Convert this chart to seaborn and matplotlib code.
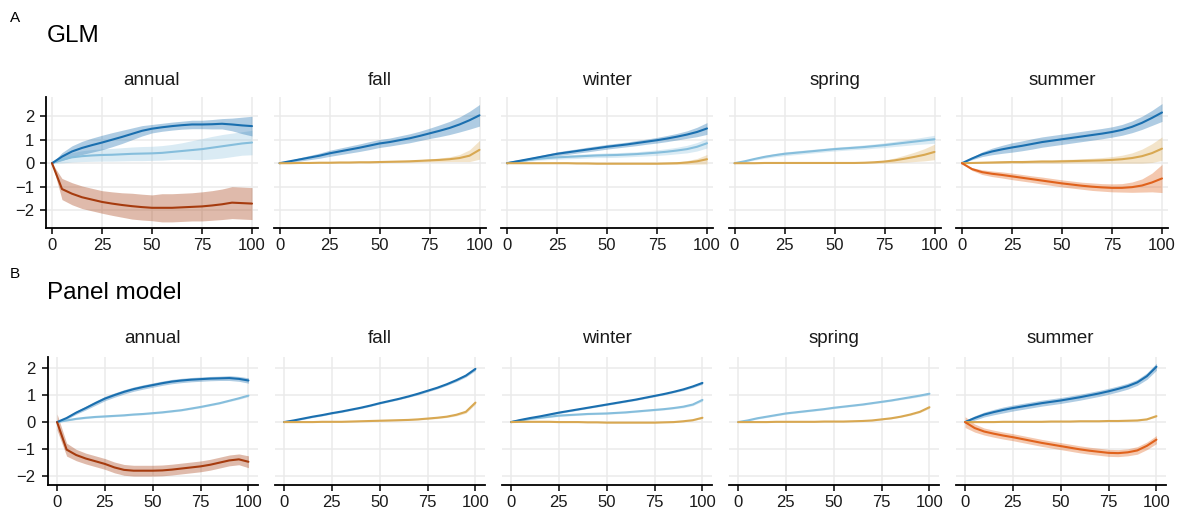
import numpy as np
import pandas as pd
import matplotlib
matplotlib.use("Agg")
import matplotlib.pyplot as plt
import seaborn as sns

sns.set_theme(style="white")
plt.rcParams["font.family"] = ["Liberation Sans", "DejaVu Sans"]

# ---------------- data ----------------
x_vals = list(range(0, 101, 5))
seasons = ["annual", "fall", "winter", "spring", "summer"]
model_titles = ["GLM", "Panel model"]
panel_letters = ["A", "B"]
x_ticks = [0, 25, 50, 75, 100]
y_ticks = [-2, -1, 0, 1, 2]

# GLM
glm_annual_dark = [0, 0.28, 0.5, 0.65, 0.77, 0.88, 1.0, 1.12, 1.25, 1.38, 1.47, 1.53, 1.58, 1.62, 1.65, 1.65, 1.66, 1.68, 1.65, 1.61, 1.58]
glm_annual_dark_ci = [0, 0.17, 0.24, 0.28, 0.3, 0.31, 0.3, 0.28, 0.25, 0.22, 0.18, 0.17, 0.17, 0.17, 0.18, 0.18, 0.2, 0.22, 0.27, 0.35, 0.42]
glm_annual_light = [0, 0.15, 0.25, 0.3, 0.33, 0.35, 0.36, 0.38, 0.4, 0.41, 0.42, 0.44, 0.48, 0.52, 0.56, 0.6, 0.66, 0.72, 0.78, 0.84, 0.88]
glm_annual_light_ci = [0, 0.14, 0.2, 0.23, 0.25, 0.26, 0.27, 0.28, 0.29, 0.3, 0.3, 0.31, 0.32, 0.35, 0.4, 0.45, 0.48, 0.5, 0.5, 0.5, 0.52]
glm_annual_brown = [0, -1.1, -1.3, -1.45, -1.55, -1.65, -1.72, -1.78, -1.83, -1.87, -1.9, -1.9, -1.9, -1.88, -1.86, -1.84, -1.8, -1.75, -1.68, -1.7, -1.72]
glm_annual_brown_ci = [0, 0.45, 0.47, 0.48, 0.48, 0.48, 0.5, 0.52, 0.55, 0.55, 0.55, 0.6, 0.6, 0.6, 0.6, 0.62, 0.63, 0.65, 0.68, 0.68, 0.68]

glm_fall_dark = [0, 0.08, 0.16, 0.24, 0.32, 0.42, 0.5, 0.58, 0.66, 0.75, 0.84, 0.9, 0.98, 1.06, 1.16, 1.27, 1.38, 1.5, 1.65, 1.83, 2.04]
glm_fall_dark_ci = [0, 0.04, 0.07, 0.09, 0.11, 0.13, 0.14, 0.15, 0.16, 0.17, 0.17, 0.17, 0.18, 0.19, 0.2, 0.22, 0.25, 0.28, 0.32, 0.38, 0.46]
glm_fall_tan = [0, 0.0, 0.01, 0.01, 0.02, 0.02, 0.03, 0.03, 0.04, 0.04, 0.05, 0.06, 0.07, 0.08, 0.1, 0.12, 0.14, 0.17, 0.22, 0.32, 0.57]
glm_fall_tan_ci = [0, 0.01, 0.01, 0.01, 0.01, 0.02, 0.02, 0.02, 0.02, 0.03, 0.03, 0.03, 0.04, 0.04, 0.05, 0.06, 0.08, 0.1, 0.15, 0.25, 0.4]

glm_winter_dark = [0, 0.08, 0.16, 0.24, 0.32, 0.4, 0.46, 0.52, 0.58, 0.64, 0.7, 0.75, 0.8, 0.86, 0.92, 0.98, 1.05, 1.13, 1.22, 1.33, 1.48]
glm_winter_dark_ci = [0, 0.03, 0.05, 0.06, 0.07, 0.08, 0.09, 0.09, 0.1, 0.1, 0.1, 0.1, 0.1, 0.11, 0.11, 0.12, 0.13, 0.14, 0.16, 0.2, 0.25]
glm_winter_light = [0, 0.07, 0.13, 0.18, 0.22, 0.25, 0.27, 0.29, 0.31, 0.33, 0.34, 0.35, 0.37, 0.39, 0.42, 0.45, 0.49, 0.54, 0.6, 0.7, 0.85]
glm_winter_light_ci = [0, 0.03, 0.05, 0.06, 0.07, 0.08, 0.08, 0.09, 0.09, 0.09, 0.1, 0.1, 0.1, 0.1, 0.11, 0.12, 0.13, 0.14, 0.16, 0.18, 0.2]
glm_winter_tan = [0, 0.0, 0.0, 0.0, 0.0, 0.0, 0.0, -0.01, -0.01, -0.02, -0.02, -0.02, -0.02, -0.02, -0.02, -0.02, -0.01, 0.0, 0.03, 0.08, 0.17]
glm_winter_tan_ci = [0, 0.01, 0.01, 0.01, 0.01, 0.01, 0.01, 0.01, 0.02, 0.02, 0.02, 0.02, 0.02, 0.02, 0.03, 0.03, 0.04, 0.05, 0.08, 0.12, 0.2]

glm_spring_light = [0, 0.08, 0.18, 0.27, 0.34, 0.4, 0.44, 0.48, 0.52, 0.56, 0.6, 0.63, 0.66, 0.69, 0.73, 0.77, 0.82, 0.87, 0.92, 0.97, 1.02]
glm_spring_light_ci = [0, 0.03, 0.05, 0.06, 0.07, 0.08, 0.08, 0.08, 0.08, 0.08, 0.08, 0.08, 0.08, 0.09, 0.09, 0.1, 0.11, 0.12, 0.13, 0.15, 0.17]
glm_spring_tan = [0, 0.0, 0.0, 0.01, 0.01, 0.01, 0.01, 0.01, 0.01, 0.01, 0.01, 0.01, 0.01, 0.02, 0.04, 0.07, 0.12, 0.19, 0.27, 0.36, 0.48]
glm_spring_tan_ci = [0, 0.01, 0.01, 0.01, 0.01, 0.01, 0.01, 0.01, 0.01, 0.01, 0.01, 0.02, 0.02, 0.03, 0.04, 0.06, 0.1, 0.15, 0.2, 0.26, 0.33]

glm_summer_dark = [0, 0.2, 0.38, 0.5, 0.59, 0.67, 0.74, 0.82, 0.9, 0.96, 1.02, 1.08, 1.14, 1.2, 1.26, 1.33, 1.42, 1.55, 1.72, 1.93, 2.16]
glm_summer_dark_ci = [0, 0.05, 0.1, 0.14, 0.17, 0.2, 0.21, 0.22, 0.22, 0.22, 0.22, 0.22, 0.22, 0.22, 0.22, 0.22, 0.23, 0.25, 0.28, 0.32, 0.38]
glm_summer_tan = [0, 0.01, 0.02, 0.03, 0.04, 0.05, 0.05, 0.06, 0.07, 0.07, 0.08, 0.09, 0.1, 0.11, 0.12, 0.14, 0.17, 0.22, 0.3, 0.43, 0.62]
glm_summer_tan_ci = [0, 0.02, 0.03, 0.04, 0.05, 0.05, 0.06, 0.06, 0.07, 0.07, 0.08, 0.08, 0.09, 0.1, 0.12, 0.14, 0.17, 0.22, 0.3, 0.4, 0.5]
glm_summer_orange = [0, -0.25, -0.38, -0.45, -0.5, -0.56, -0.62, -0.68, -0.74, -0.8, -0.86, -0.91, -0.96, -1.0, -1.03, -1.05, -1.05, -1.02, -0.95, -0.82, -0.65]
glm_summer_orange_ci = [0, 0.06, 0.1, 0.12, 0.13, 0.14, 0.14, 0.14, 0.15, 0.15, 0.15, 0.15, 0.15, 0.16, 0.16, 0.17, 0.18, 0.22, 0.28, 0.4, 0.6]

# Panel model
pm_annual_dark = [0, 0.15, 0.35, 0.52, 0.7, 0.87, 1.0, 1.12, 1.22, 1.3, 1.37, 1.44, 1.5, 1.54, 1.57, 1.59, 1.61, 1.62, 1.63, 1.6, 1.54]
pm_annual_dark_ci = [0, 0.05, 0.06, 0.07, 0.08, 0.08, 0.08, 0.08, 0.08, 0.08, 0.08, 0.08, 0.08, 0.08, 0.08, 0.08, 0.08, 0.08, 0.09, 0.09, 0.1]
pm_annual_light = [0, 0.06, 0.12, 0.16, 0.19, 0.21, 0.23, 0.25, 0.28, 0.3, 0.33, 0.36, 0.4, 0.44, 0.5, 0.56, 0.63, 0.7, 0.79, 0.88, 0.98]
pm_annual_light_ci = [0, 0.02, 0.03, 0.03, 0.03, 0.03, 0.03, 0.03, 0.03, 0.03, 0.03, 0.03, 0.03, 0.03, 0.03, 0.03, 0.03, 0.03, 0.03, 0.04, 0.04]
pm_annual_brown = [0, -1.02, -1.22, -1.35, -1.45, -1.55, -1.68, -1.77, -1.8, -1.8, -1.8, -1.79, -1.76, -1.72, -1.68, -1.64, -1.58, -1.5, -1.42, -1.38, -1.47]
pm_annual_brown_ci = [0.3, 0.24, 0.21, 0.2, 0.2, 0.2, 0.2, 0.2, 0.2, 0.2, 0.2, 0.2, 0.2, 0.2, 0.2, 0.2, 0.2, 0.2, 0.2, 0.2, 0.22]

pm_fall_dark = [0, 0.06, 0.13, 0.2, 0.26, 0.33, 0.39, 0.46, 0.53, 0.61, 0.7, 0.78, 0.86, 0.95, 1.05, 1.16, 1.27, 1.4, 1.55, 1.72, 1.97]
pm_fall_dark_ci = [0, 0.02, 0.03, 0.03, 0.03, 0.03, 0.03, 0.03, 0.03, 0.03, 0.03, 0.03, 0.03, 0.03, 0.04, 0.04, 0.04, 0.04, 0.05, 0.05, 0.06]
pm_fall_tan = [0, 0.0, 0.0, 0.0, 0.01, 0.01, 0.01, 0.02, 0.03, 0.04, 0.05, 0.06, 0.07, 0.08, 0.1, 0.13, 0.16, 0.2, 0.27, 0.38, 0.72]
pm_fall_tan_ci = [0, 0.01, 0.01, 0.01, 0.01, 0.01, 0.01, 0.01, 0.01, 0.02, 0.02, 0.02, 0.02, 0.02, 0.02, 0.03, 0.03, 0.03, 0.04, 0.05, 0.06]

pm_winter_dark = [0, 0.08, 0.15, 0.21, 0.28, 0.35, 0.41, 0.47, 0.53, 0.59, 0.65, 0.71, 0.77, 0.83, 0.9, 0.97, 1.04, 1.12, 1.21, 1.32, 1.45]
pm_winter_dark_ci = [0, 0.02, 0.03, 0.03, 0.03, 0.03, 0.03, 0.03, 0.03, 0.03, 0.03, 0.03, 0.03, 0.03, 0.03, 0.03, 0.03, 0.03, 0.04, 0.04, 0.05]
pm_winter_light = [0, 0.06, 0.12, 0.16, 0.2, 0.24, 0.26, 0.28, 0.3, 0.31, 0.32, 0.34, 0.36, 0.39, 0.42, 0.45, 0.48, 0.52, 0.57, 0.65, 0.82]
pm_winter_light_ci = [0, 0.02, 0.03, 0.03, 0.03, 0.03, 0.03, 0.03, 0.03, 0.03, 0.03, 0.03, 0.03, 0.03, 0.03, 0.03, 0.03, 0.03, 0.04, 0.04, 0.05]
pm_winter_tan = [0, 0.01, 0.01, 0.01, 0.01, 0.0, 0.0, 0.0, -0.01, -0.01, -0.02, -0.02, -0.02, -0.02, -0.02, -0.02, -0.01, 0.0, 0.03, 0.07, 0.16]
pm_winter_tan_ci = [0, 0.01, 0.01, 0.01, 0.01, 0.01, 0.01, 0.01, 0.01, 0.01, 0.01, 0.01, 0.01, 0.01, 0.01, 0.01, 0.01, 0.02, 0.02, 0.02, 0.03]

pm_spring_light = [0, 0.06, 0.14, 0.2, 0.26, 0.32, 0.36, 0.4, 0.44, 0.48, 0.53, 0.57, 0.61, 0.65, 0.7, 0.75, 0.8, 0.86, 0.92, 0.98, 1.05]
pm_spring_light_ci = [0, 0.02, 0.03, 0.03, 0.03, 0.03, 0.03, 0.03, 0.03, 0.03, 0.03, 0.03, 0.03, 0.03, 0.03, 0.03, 0.03, 0.03, 0.04, 0.04, 0.05]
pm_spring_tan = [0, 0.0, 0.0, 0.0, 0.01, 0.01, 0.01, 0.01, 0.01, 0.02, 0.02, 0.02, 0.03, 0.04, 0.06, 0.1, 0.14, 0.2, 0.28, 0.38, 0.55]
pm_spring_tan_ci = [0, 0.01, 0.01, 0.01, 0.01, 0.01, 0.01, 0.01, 0.01, 0.01, 0.01, 0.01, 0.01, 0.01, 0.02, 0.02, 0.02, 0.02, 0.03, 0.03, 0.04]

pm_summer_dark = [0, 0.15, 0.28, 0.37, 0.45, 0.52, 0.58, 0.64, 0.7, 0.75, 0.8, 0.86, 0.92, 0.99, 1.06, 1.14, 1.23, 1.33, 1.47, 1.7, 2.05]
pm_summer_dark_ci = [0.06, 0.08, 0.09, 0.1, 0.11, 0.11, 0.11, 0.11, 0.11, 0.11, 0.11, 0.11, 0.11, 0.11, 0.11, 0.11, 0.11, 0.11, 0.11, 0.12, 0.13]
pm_summer_tan = [0, 0.0, 0.0, 0.0, 0.01, 0.01, 0.01, 0.01, 0.01, 0.02, 0.02, 0.02, 0.03, 0.03, 0.03, 0.04, 0.04, 0.05, 0.06, 0.1, 0.22]
pm_summer_tan_ci = [0, 0.01, 0.01, 0.01, 0.01, 0.01, 0.01, 0.01, 0.01, 0.01, 0.01, 0.01, 0.01, 0.01, 0.01, 0.01, 0.01, 0.02, 0.02, 0.02, 0.03]
pm_summer_orange = [0, -0.22, -0.35, -0.43, -0.5, -0.56, -0.63, -0.7, -0.77, -0.83, -0.89, -0.95, -1.01, -1.06, -1.1, -1.14, -1.15, -1.12, -1.05, -0.88, -0.65]
pm_summer_orange_ci = [0.2, 0.15, 0.13, 0.13, 0.13, 0.13, 0.13, 0.13, 0.13, 0.13, 0.13, 0.13, 0.13, 0.13, 0.13, 0.13, 0.13, 0.13, 0.14, 0.14, 0.15]

line_colors = {"dark": "#1a6faf", "light": "#86bedc", "brown": "#a63b0e",
               "orange": "#e0621c", "tan": "#d8a852"}
band_alpha = {"dark": 0.35, "light": 0.3, "brown": 0.35, "orange": 0.35, "tan": 0.3}

series_table = [
    ("GLM", "annual", "dark", glm_annual_dark, glm_annual_dark_ci),
    ("GLM", "annual", "light", glm_annual_light, glm_annual_light_ci),
    ("GLM", "annual", "brown", glm_annual_brown, glm_annual_brown_ci),
    ("GLM", "fall", "dark", glm_fall_dark, glm_fall_dark_ci),
    ("GLM", "fall", "tan", glm_fall_tan, glm_fall_tan_ci),
    ("GLM", "winter", "dark", glm_winter_dark, glm_winter_dark_ci),
    ("GLM", "winter", "light", glm_winter_light, glm_winter_light_ci),
    ("GLM", "winter", "tan", glm_winter_tan, glm_winter_tan_ci),
    ("GLM", "spring", "light", glm_spring_light, glm_spring_light_ci),
    ("GLM", "spring", "tan", glm_spring_tan, glm_spring_tan_ci),
    ("GLM", "summer", "dark", glm_summer_dark, glm_summer_dark_ci),
    ("GLM", "summer", "tan", glm_summer_tan, glm_summer_tan_ci),
    ("GLM", "summer", "orange", glm_summer_orange, glm_summer_orange_ci),
    ("Panel model", "annual", "dark", pm_annual_dark, pm_annual_dark_ci),
    ("Panel model", "annual", "light", pm_annual_light, pm_annual_light_ci),
    ("Panel model", "annual", "brown", pm_annual_brown, pm_annual_brown_ci),
    ("Panel model", "fall", "dark", pm_fall_dark, pm_fall_dark_ci),
    ("Panel model", "fall", "tan", pm_fall_tan, pm_fall_tan_ci),
    ("Panel model", "winter", "dark", pm_winter_dark, pm_winter_dark_ci),
    ("Panel model", "winter", "light", pm_winter_light, pm_winter_light_ci),
    ("Panel model", "winter", "tan", pm_winter_tan, pm_winter_tan_ci),
    ("Panel model", "spring", "light", pm_spring_light, pm_spring_light_ci),
    ("Panel model", "spring", "tan", pm_spring_tan, pm_spring_tan_ci),
    ("Panel model", "summer", "dark", pm_summer_dark, pm_summer_dark_ci),
    ("Panel model", "summer", "tan", pm_summer_tan, pm_summer_tan_ci),
    ("Panel model", "summer", "orange", pm_summer_orange, pm_summer_orange_ci),
]

rows = []
for model, season, ser, mean, ci in series_table:
    for xv, m, c in zip(x_vals, mean, ci):
        rows.append(dict(model=model, season=season, series=ser, x=xv,
                         y=m, lo=m - c, hi=m + c))
df = pd.DataFrame(rows)

# ---------------- layout ----------------
W, H = 1183, 515
fig = plt.figure(figsize=(W / 100, H / 100), dpi=100)
fig.patch.set_facecolor("white")

layout = [
    dict(top=97, bottom=228, left0=46, step=227.5, width=212,
         xlim=(-3, 103), ylim=(-2.76, 2.82), letter_y=18, title_y=35.5, strip_off=17),
    dict(top=357, bottom=485, left0=47.5, step=227, width=210.5,
         xlim=(-5, 105), ylim=(-2.33, 2.41), letter_y=274, title_y=293, strip_off=19),
]

text_col = "#1a1a1a"
for r, model in enumerate(model_titles):
    L = layout[r]
    fig.text(15 / W, 1 - L["letter_y"] / H, panel_letters[r], ha="center", va="center",
             fontsize=11, color="black")
    fig.text(47 / W, 1 - L["title_y"] / H, model, ha="left", va="center",
             fontsize=17.5, color="black")
    for c, season in enumerate(seasons):
        left = L["left0"] + c * L["step"]
        ax = fig.add_axes([left / W, 1 - L["bottom"] / H, L["width"] / W,
                           (L["bottom"] - L["top"]) / H])
        ax.set_facecolor("white")
        sub = df[(df.model == model) & (df.season == season)]
        order = [s for s in ["light", "dark", "tan", "brown", "orange"] if s in sub.series.unique()]
        for ser in order:
            s = sub[sub.series == ser]
            ax.fill_between(s.x, s.lo, s.hi, color=line_colors[ser],
                            alpha=band_alpha[ser], linewidth=0, zorder=2)
        sns.lineplot(data=sub, x="x", y="y", hue="series", hue_order=order,
                     palette=line_colors, estimator=None, legend=False,
                     linewidth=1.5, ax=ax, zorder=3)
        ax.set_xlim(*L["xlim"])
        ax.set_ylim(*L["ylim"])
        ax.set_xticks(x_ticks)
        ax.set_yticks(y_ticks)
        ax.set_xlabel("")
        ax.set_ylabel("")
        ax.grid(True, color="#ebebeb", linewidth=1.1, zorder=0)
        ax.set_axisbelow(True)
        for sp in ["top", "right"]:
            ax.spines[sp].set_visible(False)
        ax.spines["bottom"].set_color("black")
        ax.spines["bottom"].set_linewidth(1.3)
        ax.tick_params(axis="x", bottom=True, length=4, width=1.1, color="black",
                       labelsize=12, labelcolor=text_col, pad=3)
        if c == 0:
            ax.spines["left"].set_color("black")
            ax.spines["left"].set_linewidth(1.3)
            ax.tick_params(axis="y", left=True, length=4, width=1.1, color="black",
                           labelsize=12, labelcolor=text_col, pad=4.5)
        else:
            ax.spines["left"].set_visible(False)
            ax.tick_params(axis="y", left=False, labelleft=False)
        ax.text(0.5, 1 + L["strip_off"] / (L["bottom"] - L["top"]), season,
                transform=ax.transAxes, ha="center", va="center",
                fontsize=13.5, color=text_col)

fig.savefig("out.png", dpi=100, facecolor="white")
